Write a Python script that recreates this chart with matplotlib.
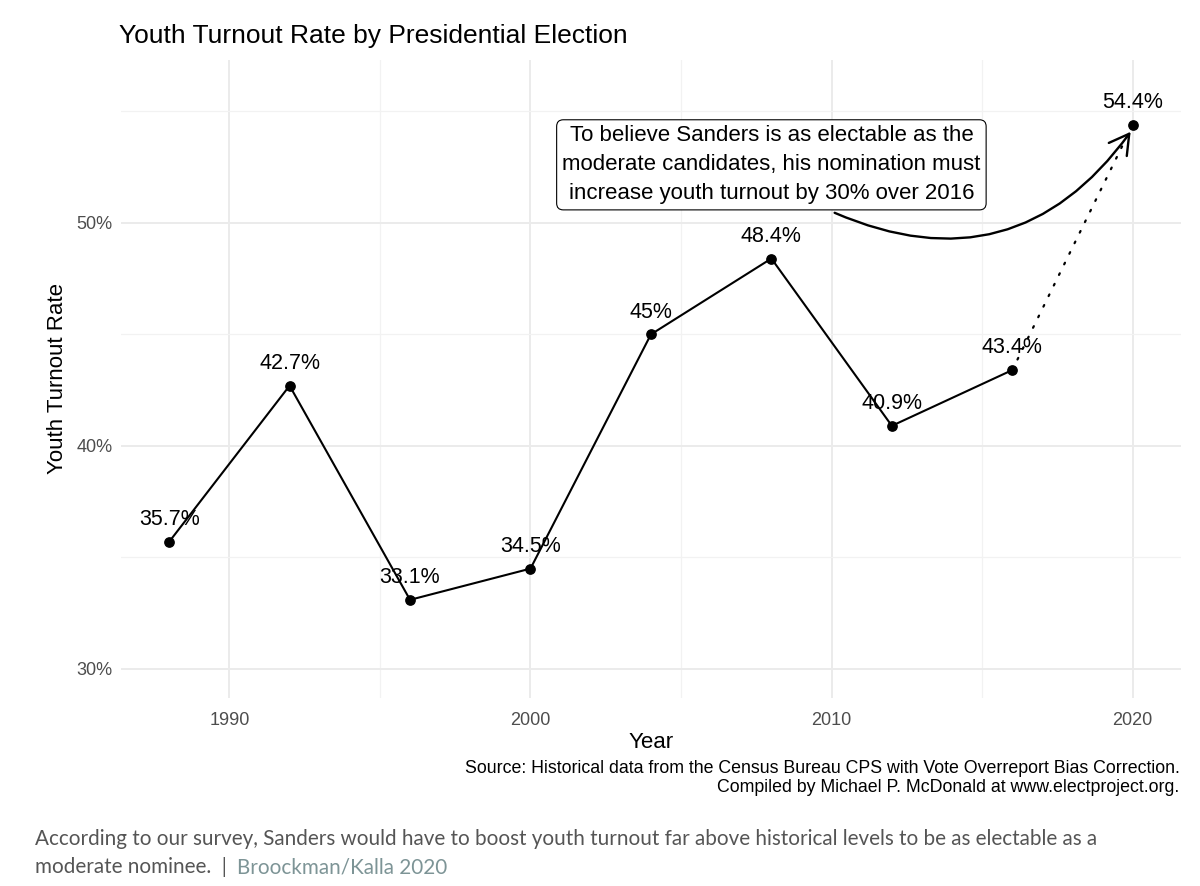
import numpy as np
import matplotlib.pyplot as plt
from matplotlib.patches import FancyArrowPatch
from matplotlib.ticker import MultipleLocator, FuncFormatter

plt.rcParams['font.family'] = ['Liberation Sans', 'DejaVu Sans']

# datos
years = [1988, 1992, 1996, 2000, 2004, 2008, 2012, 2016]
turnout = [35.7, 42.7, 33.1, 34.5, 45.0, 48.4, 40.9, 43.4]
year_2020 = 2020
turnout_2020 = 54.4
labels = ["35.7%", "42.7%", "33.1%", "34.5%", "45%", "48.4%", "40.9%", "43.4%"]
label_2020 = "54.4%"
y_range = (30, 56)  # rango del eje y antes de la expansion

note = ("To believe Sanders is as electable as the\n"
        "moderate candidates, his nomination must\n"
        "increase youth turnout by 30% over 2016")
note_xy = (2008, 52.6)
arrow_from = (2010.1, 50.45)
arrow_to = (2019.93, 54.08)

source = ("Source: Historical data from the Census Bureau CPS with Vote Overreport Bias Correction.\n"
          "Compiled by Michael P. McDonald at www.electproject.org.")

fig = plt.figure(figsize=(12, 8.86), dpi=100)
ax = fig.add_axes([0.1008, 0.2122, 0.8833, 0.7201])

# linea principal y proyeccion
ax.plot(years, turnout, color='black', lw=1.5, zorder=3)
ax.plot([years[-1], year_2020], [turnout[-1], turnout_2020], color='black',
        lw=1.6, linestyle=(0, (0.8, 4.5)), dash_capstyle='round', zorder=3)
ax.scatter(years + [year_2020], turnout + [turnout_2020], s=45, color='black', zorder=4)

for x, y, lab in zip(years + [year_2020], turnout + [turnout_2020], labels + [label_2020]):
    ax.text(x, y + 1.0, lab, ha='center', va='center', fontsize=15.5, zorder=5)

ax.text(note_xy[0], note_xy[1], note, ha='center', va='center', fontsize=16,
        linespacing=1.5, zorder=6,
        bbox=dict(boxstyle='round,pad=0.25,rounding_size=0.3', fc='white', ec='black', lw=0.8))

arrow = FancyArrowPatch(arrow_from, arrow_to, connectionstyle='arc3,rad=0.4',
                        arrowstyle='->,head_length=0.7,head_width=0.4', mutation_scale=20,
                        shrinkA=0, shrinkB=0, color='black', lw=1.7, zorder=5)
ax.add_patch(arrow)

# ejes
xs = years + [year_2020]
xr = max(xs) - min(xs)
ax.set_xlim(min(xs) - 0.05 * xr, max(xs) + 0.05 * xr)
yr = y_range[1] - y_range[0]
ax.set_ylim(y_range[0] - 0.05 * yr, y_range[1] + 0.05 * yr)

ax.xaxis.set_major_locator(MultipleLocator(10))
ax.xaxis.set_minor_locator(MultipleLocator(5))
ax.yaxis.set_major_locator(MultipleLocator(10))
ax.yaxis.set_minor_locator(MultipleLocator(5))
ax.yaxis.set_major_formatter(FuncFormatter(lambda v, p: f"{v:.0f}%"))
ax.grid(True, which='major', color='#ebebeb', lw=1.4)
ax.grid(True, which='minor', color='#f2f2f2', lw=0.9)
ax.set_axisbelow(True)
for s in ax.spines.values():
    s.set_visible(False)
ax.tick_params(which='both', length=0, labelsize=13, labelcolor='#4d4d4d')
ax.tick_params(axis='x', pad=10)
ax.tick_params(axis='y', pad=6)

ax.set_xlabel("Year", fontsize=16, labelpad=2)
ax.set_ylabel("Youth Turnout Rate", fontsize=16, labelpad=6)

fig.text(0.099, 0.959, "Youth Turnout Rate by Presidential Election", fontsize=19,
         ha='left', va='center')
fig.text(0.983, 0.122, source, fontsize=12.75, ha='right', va='center', linespacing=1.2)

# pie de foto
cap_font = dict(family=['Lato', 'DejaVu Sans'], fontsize=14.9)
fig.text(0.029, 0.0535, "According to our survey, Sanders would have to boost youth turnout far above "
         "historical levels to be as electable as a", color='#555555', va='center', **cap_font)
t1 = fig.text(0.029, 0.021, "moderate nominee.  |  ", color='#555555', va='center', **cap_font)
fig.canvas.draw()
bb = t1.get_window_extent().transformed(fig.transFigure.inverted())
fig.text(bb.x1, 0.021, "Broockman/Kalla 2020", color='#7d9496', va='center', **cap_font)

fig.savefig("out.png", dpi=100)
